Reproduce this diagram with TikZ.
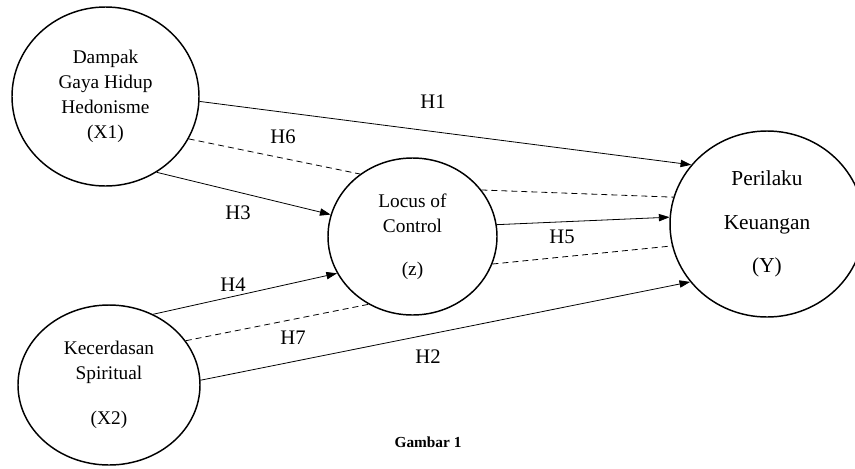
\documentclass[tikz,border=0pt]{standalone}
\usepackage{fontspec}
\setmainfont{Liberation Serif}
\usetikzlibrary{arrows.meta,shapes.geometric}

\begin{document}
\begin{tikzpicture}[x=0.75pt, y=-0.75pt,
    var/.style={draw, ellipse, line width=1.1pt, inner sep=0pt, align=center,
      font=\fontsize{14.5}{18.75}\selectfont},
    link/.style={line width=0.6pt, -{Triangle[length=8pt,width=5.5pt]}},
    dlink/.style={line width=0.6pt, dash pattern=on 4.5pt off 3pt},
    lab/.style={font=\fontsize{15.5}{18}\selectfont}]
    \useasboundingbox (0,0) rectangle (855,468);

    % variabel
    \node[var, minimum width=140.25pt, minimum height=134.25pt] (x1) at (105.5,96.5)
      {Dampak\\Gaya Hidup\\Hedonisme\\(X1)};
    \node[var, minimum width=136.5pt, minimum height=120pt] (x2) at (109,385)
      {Kecerdasan\\Spiritual\\[15pt](X2)};
    \node[var, minimum width=126.75pt, minimum height=117.75pt] (z) at (412.5,236.5)
      {Locus of\\Control\\[13.5pt](z)};
    \node[var, minimum width=145.5pt, minimum height=139.5pt, font=\fontsize{16}{19}\selectfont] (y) at (767,224)
      {Perilaku\\[14pt]Keuangan\\[13pt](Y)};

    % hipotesis langsung
    \draw[link] (x1.-3) -- (y.142);
    \draw[link] (x2.3) -- (y.217);
    \draw[link] (x1.-56) -- (z.165);
    \draw[link] (x2.58) -- (z.206);
    \draw[link] (z.8) -- (y.176);

    % mediasi
    \draw[dlink] (x1.-27) -- (z.130);
    \draw[dlink] (z.34) -- (y.164);
    \draw[dlink] (x2.30) -- (z.237);
    \draw[dlink] (z.-19) -- (y.193);

    \node[lab] (h1) at (433,102) {H1};
    \node[lab] (h2) at (428,357) {H2};
    \node[lab] (h3) at (238,213) {H3};
    \node[lab] (h4) at (233,285) {H4};
    \node[lab] (h5) at (562,237) {H5};
    \node[lab] (h6) at (283,137) {H6};
    \node[lab] (h7) at (293,338) {H7};

    \node[font=\fontsize{11.5}{13}\selectfont\bfseries] (cap) at (428,442) {Gambar 1};
\end{tikzpicture}
\end{document}
